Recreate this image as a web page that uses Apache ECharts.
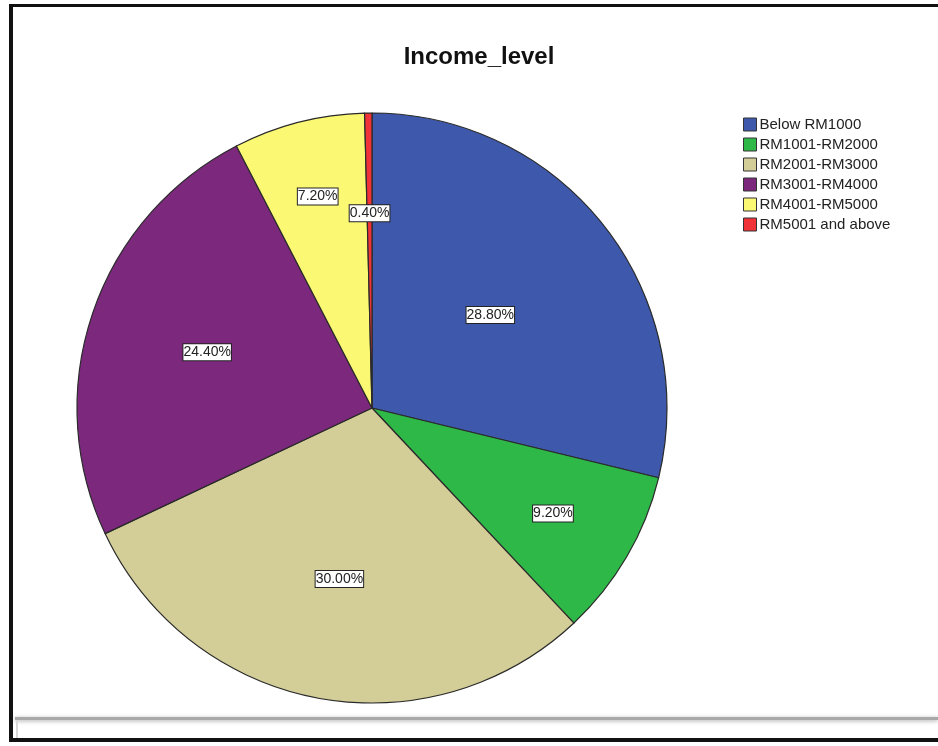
<!DOCTYPE html>
<html>
<head>
<meta charset="utf-8">
<title>Income_level</title>
<script src="https://cdn.jsdelivr.net/npm/echarts@6/dist/echarts.min.js"></script>
<style>
  html, body { margin: 0; padding: 0; background: #fff; }
  #chart { width: 938px; height: 746px; }
</style>
</head>
<body>
<div id="chart"></div>
<script>
// Income groups and their share of respondents (%)
const categories = ['Below RM1000', 'RM1001-RM2000', 'RM2001-RM3000', 'RM3001-RM4000', 'RM4001-RM5000', 'RM5001 and above'];
const shares = [28.8, 9.2, 30.0, 24.4, 7.2, 0.4];
const sliceColors = ['#3E58AC', '#2EB848', '#D3CE97', '#7C287D', '#FBF873', '#EF3338'];

// Distance of each percentage box from the centre, as a fraction of the radius
const labelRadiusRatio = [0.51, 0.71, 0.59, 0.59, 0.74, 0.66];

const FONT = '"Liberation Sans", Arial, sans-serif';
const pieCenter = [372, 408];
const pieRadius = 295;

const chart = echarts.init(document.getElementById('chart'), null, { renderer: 'canvas' });

chart.setOption({
  backgroundColor: '#ffffff',
  animation: false,
  title: {
    text: 'Income_level',
    left: 474,
    top: 40,
    textAlign: 'center',
    textStyle: { fontFamily: FONT, fontSize: 24, fontWeight: 'bold', color: '#111' }
  },
  legend: {
    orient: 'vertical',
    left: 738,
    top: 112,
    itemWidth: 13,
    itemHeight: 13,
    itemGap: 5,
    icon: 'rect',
    selectedMode: false,
    data: categories,
    itemStyle: { borderColor: '#333', borderWidth: 1 },
    textStyle: { fontFamily: FONT, fontSize: 15, color: '#222', padding: [0, 0, 0, -2] }
  },
  graphic: [
    // outer frame
    { type: 'rect', shape: { x: 9, y: 4, width: 4, height: 738 }, style: { fill: '#111' }, silent: true },
    { type: 'rect', shape: { x: 9, y: 4, width: 929, height: 3 }, style: { fill: '#111' }, silent: true },
    { type: 'rect', shape: { x: 9, y: 738, width: 929, height: 4 }, style: { fill: '#111' }, silent: true },
    // panel edge below the chart
    { type: 'rect', shape: { x: 15, y: 717, width: 923, height: 3 },
      style: { fill: '#a8a8a8', shadowColor: 'rgba(0,0,0,0.35)', shadowBlur: 4, shadowOffsetY: 1 }, silent: true },
    { type: 'rect', shape: { x: 16, y: 720, width: 2, height: 18 }, style: { fill: '#d8d8d8' }, silent: true }
  ],
  series: [{
    type: 'pie',
    center: pieCenter,
    radius: pieRadius,
    startAngle: 90,
    clockwise: true,
    silent: true,
    emphasis: { disabled: true },
    data: categories.map((name, i) => ({
      name: name,
      value: shares[i],
      itemStyle: { color: sliceColors[i] }
    })),
    itemStyle: { borderColor: '#2a2a2a', borderWidth: 1.2 },
    label: {
      show: true,
      position: 'inside',
      formatter: p => p.value.toFixed(2) + '%',
      fontFamily: FONT,
      fontSize: 14,
      color: '#222',
      backgroundColor: '#ffffff',
      borderColor: '#222',
      borderWidth: 1,
      padding: [1, 0, 0, 0],
      lineHeight: 15
    },
    labelLine: { show: false },
    // push each box out along its slice's bisector
    labelLayout: function (params) {
      const r = params.labelRect;
      const lx = r.x + r.width / 2;
      const ly = r.y + r.height / 2;
      const dx = lx - pieCenter[0];
      const dy = ly - pieCenter[1];
      const len = Math.sqrt(dx * dx + dy * dy) || 1;
      const k = labelRadiusRatio[params.dataIndex] * pieRadius;
      return {
        x: pieCenter[0] + dx / len * k,
        y: pieCenter[1] + dy / len * k
      };
    }
  }]
});
</script>
</body>
</html>
